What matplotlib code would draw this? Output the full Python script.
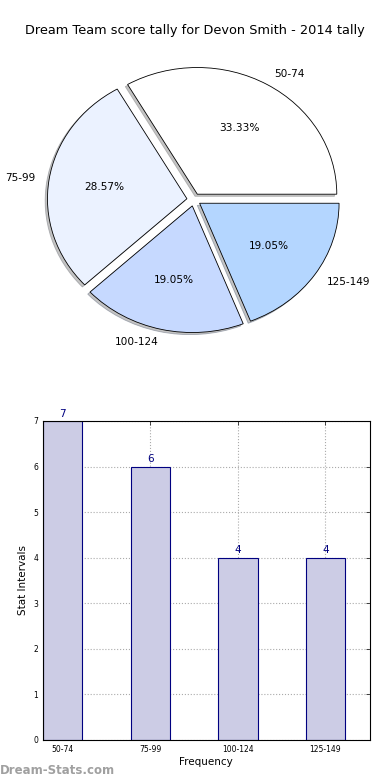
import matplotlib
matplotlib.use("Agg")
import matplotlib.pyplot as plt

# score intervals and how often each came up
INTERVALS = ["50-74", "75-99", "100-124", "125-149"]
COUNTS = [7, 6, 4, 4]
PIE_COLORS = ["#FFFFFF", "#EBF2FF", "#C6D9FF", "#B4D6FF"]
TITLE = "Dream Team score tally for Devon Smith - 2014 tally"

fig = plt.figure(figsize=(3.9, 7.8), dpi=100)

# pie on top, not equal aspect (stretched like the old matplotlib look)
ax_pie = fig.add_axes([0.05, 0.541, 0.894, 0.406])
ax_pie.pie(COUNTS, labels=INTERVALS, colors=PIE_COLORS, explode=[0.05] * len(COUNTS),
           autopct="%.2f%%", shadow={"ox": -0.012, "oy": -0.012, "shade": 0.5,
                                     "facecolor": "#888888"},
           startangle=0, counterclock=True,
           wedgeprops={"edgecolor": "black", "linewidth": 0.6},
           textprops={"fontsize": 7.6})
ax_pie.set_aspect("auto")
ax_pie.set_xlim(-1.25, 1.25)
ax_pie.set_ylim(-1.25, 1.25)
ax_pie.axis("off")
fig.text(0.5, 0.961, TITLE, ha="center", va="center", fontsize=9.3)

# bar chart below
ax_bar = fig.add_axes([0.110, 0.0513, 0.838, 0.409])
xs = list(range(len(COUNTS)))
width = 0.45
ax_bar.bar(xs, COUNTS, width=width, align="edge", color="#CCCCE5",
           edgecolor="navy", linewidth=0.8, zorder=2)
for x, c in zip(xs, COUNTS):
    ax_bar.text(x + width / 2, c + 0.05, str(c), ha="center", va="bottom",
                color="navy", fontsize=7.5)
ax_bar.set_xticks([x + width / 2 for x in xs])
ax_bar.set_xticklabels(INTERVALS)
ax_bar.set_xlim(0, 3.73)
ax_bar.set_ylim(0, 7)
ax_bar.set_yticks(range(0, 8))
ax_bar.tick_params(labelsize=5.5, direction="in", top=True, right=True, length=3, width=0.5)
ax_bar.grid(True, linestyle=":", color="#AAAAAA", linewidth=0.8, zorder=0)
ax_bar.set_axisbelow(True)
ax_bar.set_xlabel("Frequency", fontsize=7.5, labelpad=2)
ax_bar.set_ylabel("Stat Intervals", fontsize=7.5, labelpad=4)

fig.text(0.0, 0.012, "Dream-Stats.com", fontsize=8.5, color="#A0A0A0",
         fontweight="bold", ha="left", va="center")

fig.savefig("out.png", dpi=100)
